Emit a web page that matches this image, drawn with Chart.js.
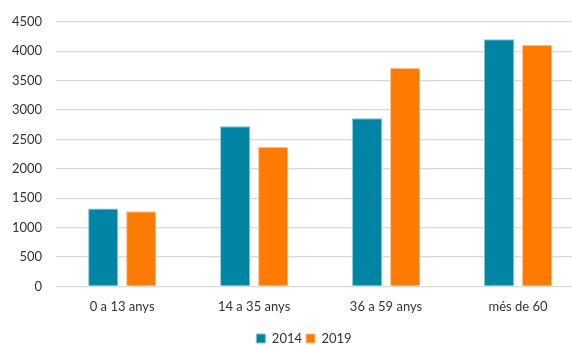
<!DOCTYPE html>
<html>
<head>
<meta charset="utf-8">
<script src="https://cdn.jsdelivr.net/npm/chart.js@4/dist/chart.umd.min.js"></script>
<style>
  html, body { margin: 0; padding: 0; background: #fff; }
  #frame { width: 572px; height: 345px; overflow: hidden; }
  /* the source image is cut off on the right, so the chart is a bit wider than the frame */
  #wrap { width: 584px; height: 345px; }
</style>
</head>
<body>
<div id="frame"><div id="wrap"><canvas id="chart"></canvas></div></div>
<script>
const categories = ["0 a 13 anys", "14 a 35 anys", "36 a 59 anys", "més de 60"];
const values2014 = [1325, 2725, 2860, 4205];
const values2019 = [1280, 2375, 3715, 4110];
const yTicks = [0, 500, 1000, 1500, 2000, 2500, 3000, 3500, 4000, 4500];

const FONT = "Lato, 'Open Sans', sans-serif";

// legend sits a little right of centre in the source
const legendShift = {
  id: "legendShift",
  afterLayout(chart) {
    chart.legend.left += 13;
    chart.legend.right += 13;
  }
};

new Chart(document.getElementById("chart"), {
  type: "bar",
  data: {
    labels: categories,
    datasets: [
      {
        label: "2014",
        data: values2014,
        backgroundColor: "#0084a3",
        borderColor: "#7ac3d3",
        borderWidth: 1,
        categoryPercentage: 0.576,
        barPercentage: 0.79
      },
      {
        label: "2019",
        data: values2019,
        backgroundColor: "#ff7a00",
        borderColor: "#ffc08a",
        borderWidth: 1,
        categoryPercentage: 0.576,
        barPercentage: 0.79
      }
    ]
  },
  options: {
    responsive: true,
    maintainAspectRatio: false,
    animation: false,
    layout: { padding: { top: 12, right: 0, left: -2, bottom: -10 } },
    plugins: {
      legend: {
        position: "bottom",
        labels: {
          color: "#333",
          font: { family: FONT, size: 13 },
          boxWidth: 9,
          boxHeight: 9,
          padding: 4
        }
      },
      tooltip: { enabled: false }
    },
    scales: {
      x: {
        grid: { display: false, drawTicks: false },
        border: { display: true, color: "#d9d9d9", width: 1 },
        ticks: { color: "#333", font: { family: FONT, size: 13 }, padding: 13 }
      },
      y: {
        min: 0,
        max: 4500,
        afterBuildTicks: (axis) => { axis.ticks = yTicks.map((v) => ({ value: v })); },
        grid: { color: "#d9d9d9", lineWidth: 1.3, drawTicks: false },
        border: { display: false },
        ticks: {
          color: "#333",
          font: { family: FONT, size: 13 },
          padding: 14,
          callback: (v) => String(v)
        }
      }
    }
  },
  plugins: [legendShift]
});
</script>
</body>
</html>
